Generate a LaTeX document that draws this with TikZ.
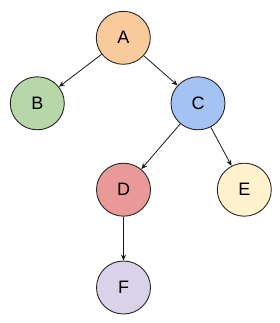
\documentclass[tikz,border=0pt]{standalone}
\usepackage{fontspec}
\setmainfont{Liberation Sans}
\usetikzlibrary{shapes.geometric,arrows.meta}
\definecolor{cA}{HTML}{F9CB9C}
\definecolor{cB}{HTML}{B6D7A8}
\definecolor{cC}{HTML}{A4C2F4}
\definecolor{cD}{HTML}{EA9999}
\definecolor{cE}{HTML}{FFF2CC}
\definecolor{cF}{HTML}{D9D2E9}
\tikzset{
  tnode/.style={ellipse, draw=black!85, line width=0.9pt, minimum width=54pt, minimum height=53pt, inner sep=0pt, font=\fontsize{18}{18}\selectfont},
  conn/.style={draw=black!90, line width=0.8pt, -{Stealth[length=6pt,width=5pt]}}
}
\begin{document}
\begin{tikzpicture}[x=1pt,y=-1pt]
\path[use as bounding box] (0,0) rectangle (279,323);
\node[tnode, fill=cA] (A) at (123.3,37.8) {A};
\node[tnode, fill=cB] (B) at (37.3,103.3) {B};
\node[tnode, fill=cC] (C) at (198,103.3) {C};
\node[tnode, fill=cD] (D) at (123.5,189.7) {D};
\node[tnode, fill=cE] (E) at (244.3,189.7) {E};
\node[tnode, fill=cF] (F) at (123.5,287.5) {F};
\draw[conn] (A) -- (B);
\draw[conn] (A) -- (C);
\draw[conn] (C) -- (D);
\draw[conn] (C) -- (E);
\draw[conn] (D) -- (F);
\end{tikzpicture}
\end{document}
